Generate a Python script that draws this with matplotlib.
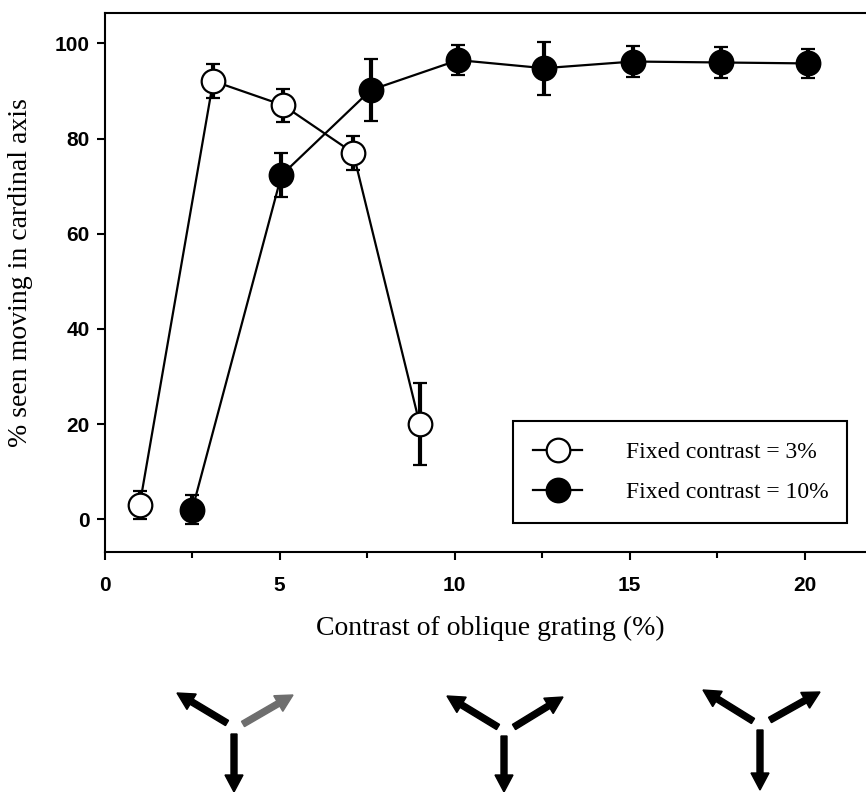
import matplotlib
matplotlib.use('Agg')
import matplotlib.pyplot as plt
from matplotlib.patches import FancyArrow
from matplotlib.transforms import IdentityTransform
from matplotlib.ticker import MultipleLocator

# fixed contrast = 3% (open circles)
x_low = [1.0, 3.1, 5.1, 7.1, 9.0]
y_low = [3.0, 92.1, 87.0, 77.0, 20.0]
err_low = [2.9, 3.6, 3.5, 3.5, 8.7]

# fixed contrast = 10% (filled circles)
x_high = [2.5, 5.05, 7.6, 10.1, 12.55, 15.1, 17.6, 20.1]
y_high = [2.0, 72.3, 90.2, 96.5, 94.8, 96.2, 96.0, 95.8]
err_high = [3.1, 4.6, 6.6, 3.2, 5.6, 3.2, 3.2, 3.0]

labels = ['Fixed contrast = 3%', 'Fixed contrast = 10%']

W, H = 866, 792
fig = plt.figure(figsize=(W / 100, H / 100), dpi=100)
ax = fig.add_axes([104.7 / W, 1 - 552 / H, 1 - 104.7 / W, (552 - 13) / H])

common = dict(color='black', lw=1.6, elinewidth=3, capsize=5, capthick=3,
              markersize=17, markeredgewidth=1.6)
ax.errorbar(x_low, y_low, yerr=err_low, fmt='o-', markerfacecolor='white',
            markeredgecolor='black', label=labels[0], **common)
ax.errorbar(x_high, y_high, yerr=err_high, fmt='o-', markerfacecolor='black',
            markeredgecolor='black', label=labels[1], **common)

ax.set_xlim(0, (W - 104.7) / 35.0)
ax.set_ylim(-6.9, 106.4)
ax.set_xticks([0, 5, 10, 15, 20])
ax.xaxis.set_minor_locator(MultipleLocator(2.5))
ax.set_yticks([0, 20, 40, 60, 80, 100])
ax.spines['right'].set_visible(False)
for s in ['left', 'bottom', 'top']:
    ax.spines[s].set_linewidth(1.5)
ax.tick_params(axis='both', which='major', direction='out', length=6, width=1.5,
               labelsize=15)
ax.tick_params(axis='y', pad=5)
ax.tick_params(axis='x', pad=11)
ax.tick_params(axis='x', which='minor', direction='out', length=4, width=1.5)
for lab in ax.get_xticklabels() + ax.get_yticklabels():
    lab.set_fontfamily('Liberation Sans')
    lab.set_fontweight('bold')

ax.set_xlabel('Contrast of oblique grating (%)', family='Liberation Serif',
              fontsize=20)
ax.xaxis.set_label_coords(0.507, -0.118)
ax.set_ylabel('% seen moving in cardinal axis', family='Liberation Serif',
              fontsize=20)
ax.yaxis.set_label_coords(-0.094, 0.518)

handles, _ = ax.get_legend_handles_labels()
handles = [h[0] for h in handles]
leg = ax.legend(handles, labels, loc='lower left',
                bbox_to_anchor=(0.536, 0.054, 0.439, 0.196), mode='expand',
                prop={'family': 'Liberation Serif', 'size': 17},
                fancybox=False, framealpha=1, edgecolor='black',
                handlelength=2.1, handletextpad=1.86, labelspacing=0.78,
                borderpad=0.85, borderaxespad=0)
leg.get_frame().set_linewidth(1.5)

# stimulus diagrams below the axis
tripods = [
    [((227, 723), (177, 693), 'black'), ((243, 724), (293, 695), '#6e6e6e'),
     ((234, 734), (234, 792), 'black')],
    [((498, 727), (447, 696), 'black'), ((514, 727), (563, 697), 'black'),
     ((504, 736), (504, 792), 'black')],
    [((753, 721), (703, 690), 'black'), ((770, 720), (820, 692), 'black'),
     ((760, 730), (760, 790), 'black')],
]
for tri in tripods:
    for (x0, y0), (x1, y1), col in tri:
        arr = FancyArrow(x0, H - y0, x1 - x0, y0 - y1, width=6,
                         head_width=18, head_length=17,
                         length_includes_head=True, color=col,
                         transform=IdentityTransform())
        fig.add_artist(arr)

fig.savefig('out.png', dpi=100)
